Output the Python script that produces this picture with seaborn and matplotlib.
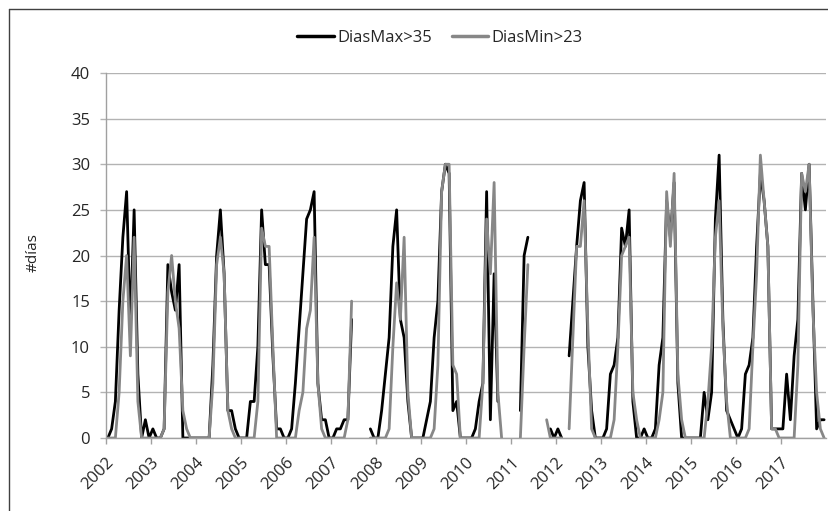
import numpy as np
import pandas as pd
import matplotlib
matplotlib.use("Agg")
import matplotlib.pyplot as plt
import seaborn as sns
from matplotlib.lines import Line2D

N = None
years = [str(y) for y in range(2002, 2018)]

dias_max = [
    0, 1, 4, 14, 22, 27, 12, 25, 7, 0, 2, 0,      # 2002
    1, 0, 0, 1, 19, 16, 14, 19, 0, 0, 0, 0,       # 2003
    0, 0, 0, 0, 8, 20, 25, 18, 3, 3, 1, 0,        # 2004
    0, 0, 4, 4, 10, 25, 19, 19, 9, 1, 1, 0,       # 2005
    0, 1, 6, 12, 18, 24, 25, 27, 6, 2, 2, 0,      # 2006
    0, 1, 1, 2, 2, 13, N, N, N, N, 1, 0,          # 2007
    0, 3, 7, 11, 21, 25, 13, 11, 4, 0, 0, 0,      # 2008
    0, 2, 4, 11, 15, 27, 30, 29, 3, 4, 0, 0,      # 2009
    0, 0, 1, 4, 6, 27, 2, 18, 4, N, N, N,         # 2010
    N, N, 3, 20, 22, N, N, N, N, N, 1, 0,         # 2011
    1, 0, N, 9, 15, 21, 26, 28, 10, 3, 0, 0,      # 2012
    0, 1, 7, 8, 11, 23, 21, 25, 4, 0, 0, 1,       # 2013
    0, 0, 1, 8, 11, 26, 22, 28, 6, 0, 0, 0,       # 2014
    0, 0, 0, 5, 2, 5, 24, 31, 13, 3, 2, 1,        # 2015
    0, 1, 7, 8, 11, 21, 29, 26, 21, 1, 1, 1,      # 2016
    1, 7, 2, 9, 13, 29, 25, 30, 15, 1, 2, 2,      # 2017
]

dias_min = [
    0, 0, 0, 5, 15, 20, 9, 22, 4, 0, 0, 0,        # 2002
    0, 0, 0, 1, 16, 20, 15, 12, 3, 1, 0, 0,       # 2003
    0, 0, 0, 0, 6, 19, 22, 18, 3, 1, 0, 0,        # 2004
    0, 0, 0, 0, 4, 23, 21, 21, 10, 0, 0, 0,       # 2005
    0, 0, 0, 3, 5, 12, 14, 22, 6, 1, 0, 0,        # 2006
    0, 0, 0, 0, 2, 15, N, N, N, N, 0, 0,          # 2007
    0, 0, 0, 1, 10, 17, 13, 22, 5, 0, 0, 0,       # 2008
    0, 0, 0, 1, 8, 27, 30, 30, 8, 7, 0, 0,        # 2009
    0, 0, 0, 0, 6, 24, 18, 28, 5, 0, N, N,        # 2010
    N, N, 0, 10, 19, N, N, N, N, 2, 0, 0,         # 2011
    0, 0, N, 1, 11, 21, 21, 26, 12, 1, 0, 0,      # 2012
    0, 0, 0, 2, 10, 20, 21, 22, 5, 2, 0, 0,       # 2013
    0, 0, 0, 2, 5, 27, 21, 29, 7, 2, 0, 0,        # 2014
    0, 0, 0, 0, 4, 10, 22, 26, 12, 4, 0, 0,       # 2015
    0, 0, 0, 1, 10, 18, 31, 26, 21, 1, 1, 0,      # 2016
    0, 0, 0, 0, 8, 29, 27, 30, 14, 5, 1, 0,       # 2017
]

series_names = ["DiasMax>35", "DiasMin>23"]
colors = {"DiasMax>35": "#000000", "DiasMin>23": "#878787"}


def to_long(values, name):
    vals = np.array([np.nan if v is None else v for v in values], dtype=float)
    seg = np.cumsum(np.isnan(vals))
    df = pd.DataFrame({"x": np.arange(len(vals)), "y": vals,
                       "serie": name, "seg": [f"{name}_{s}" for s in seg]})
    return df.dropna()


data = pd.concat([to_long(dias_max, series_names[0]),
                  to_long(dias_min, series_names[1])], ignore_index=True)

sns.set_theme(style="white")
plt.rcParams["font.family"] = ["Open Sans", "DejaVu Sans"]

fig = plt.figure(figsize=(8.29, 5.11), dpi=100)
ax = fig.add_axes([106 / 829, 1 - 438 / 511, (826 - 106) / 829, (438 - 73) / 511])

sns.lineplot(data=data, x="x", y="y", hue="serie", units="seg", estimator=None,
             palette=colors, linewidth=2.0, ax=ax, legend=False, sort=True)

ax.set_xlim(-0.5, len(dias_max) - 0.5)
ax.set_ylim(0, 40)
ax.set_yticks(range(0, 41, 5))
ax.yaxis.grid(True, color="#b3b3b3", linewidth=1.0)
ax.xaxis.grid(False)
ax.set_axisbelow(True)

xt = [-0.5 + 12 * k for k in range(len(years))]
ax.set_xticks(xt)
ax.set_xticklabels(years, rotation=45, ha="right", rotation_mode="anchor")
ax.tick_params(axis="x", length=4, width=1, color="#a0a0a0", pad=8,
               labelsize=12, direction="out", bottom=True)
ax.tick_params(axis="y", length=4.5, width=1, color="#b3b3b3", pad=7,
               labelsize=12, direction="out", left=True)
ax.set_xlabel("")
ax.set_ylabel("")

for s in ["top", "right"]:
    ax.spines[s].set_visible(False)
for s in ["left", "bottom"]:
    ax.spines[s].set_color("#a0a0a0")
    ax.spines[s].set_linewidth(1.0)

fig.text(33 / 829, 1 - 253 / 511, "#días", rotation=90, ha="center", va="center",
         fontsize=11)

handles = [Line2D([], [], color=colors[n], linewidth=2.5) for n in series_names]
fig.legend(handles, series_names, loc="center", ncol=2,
           bbox_to_anchor=(440 / 829, 1 - 38 / 511), frameon=False,
           fontsize=12, handlelength=2.2, handletextpad=0.2, columnspacing=1.2)

# outer chart frame
fig.add_artist(Line2D([9 / 829, 1.0], [1 - 9.5 / 511, 1 - 9.5 / 511],
                      transform=fig.transFigure, color="#404040", linewidth=1))
fig.add_artist(Line2D([9 / 829, 9 / 829], [0.0, 1 - 9.5 / 511],
                      transform=fig.transFigure, color="#404040", linewidth=1))

fig.savefig("out.png", dpi=100)
